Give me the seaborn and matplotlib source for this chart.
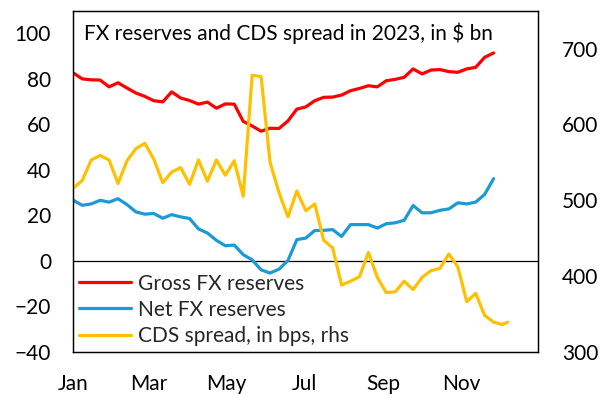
import pandas as pd
import matplotlib
matplotlib.use("Agg")
import matplotlib.pyplot as plt
import seaborn as sns

# Weekly observations, 2023
gross_fx = [82.6, 80.0, 79.6, 79.5, 76.5, 78.3, 76.0, 73.8, 72.3, 70.4,
            69.9, 74.3, 71.6, 70.5, 68.9, 69.8, 67.1, 69.0, 68.9, 61.3,
            59.3, 57.0, 58.3, 58.2, 61.5, 66.7, 67.7, 70.4, 71.9, 72.0,
            72.9, 74.8, 75.8, 77.0, 76.5, 79.2, 79.8, 80.7, 84.4, 82.2,
            83.9, 84.1, 83.2, 82.9, 84.4, 85.1, 89.5, 91.4]
net_fx = [26.6, 24.4, 25.0, 26.6, 25.8, 27.3, 24.7, 21.5, 20.5, 20.8,
          18.7, 20.3, 19.3, 18.6, 14.0, 12.2, 9.0, 6.6, 6.9, 2.7,
          0.4, -4.0, -5.4, -3.7, 0.1, 9.3, 10.0, 13.3, 13.4, 13.7,
          10.7, 15.9, 15.9, 15.9, 14.4, 16.3, 16.7, 17.8, 24.3, 21.1,
          21.1, 22.2, 22.8, 25.5, 25.0, 25.8, 29.2, 36.1]
cds_bps = [516, 526, 553, 559, 553, 522, 552, 568, 575, 554,
           523, 537, 543, 521, 553, 525, 553, 533, 552, 505,
           665, 663, 550, 510, 478, 512, 486, 495, 447, 437,
           388, 393, 399, 431, 398, 378, 379, 393, 382, 398,
           407, 410, 429, 412, 366, 377, 348, 339, 336, 339]

cds_dates = list(pd.date_range("2023-01-01", periods=49, freq="7D")) + [pd.Timestamp("2023-12-07")]
fx_dates = cds_dates[:len(gross_fx)]

month_ticks = ["2023-01-01", "2023-03-01", "2023-05-01", "2023-07-01", "2023-09-01", "2023-11-01"]
month_labels = ["Jan", "Mar", "May", "Jul", "Sep", "Nov"]

fx = pd.DataFrame({"date": fx_dates, "gross": gross_fx, "net": net_fx})
cds = pd.DataFrame({"date": cds_dates, "cds": cds_bps})

sns.set_theme(style="white")
plt.rcParams["font.family"] = ["Lato", "DejaVu Sans"]

RED = "#FF0000"
BLUE = "#1A9AD6"
GOLD = "#FFC000"
LW = 2.3

fig = plt.figure(figsize=(6.11, 3.95), dpi=100)
ax = fig.add_axes([0.12, 0.1096, 0.761, 0.8633])
ax2 = ax.twinx()

sns.lineplot(data=fx, x="date", y="gross", ax=ax, color=RED, linewidth=LW,
             label="Gross FX reserves", legend=False)
sns.lineplot(data=fx, x="date", y="net", ax=ax, color=BLUE, linewidth=LW,
             label="Net FX reserves", legend=False)
sns.lineplot(data=cds, x="date", y="cds", ax=ax2, color=GOLD, linewidth=LW,
             label="CDS spread, in bps, rhs", legend=False)

ax.axhline(0, color="black", linewidth=0.9, zorder=1)

ax.set_xlim(pd.Timestamp("2023-01-01"), pd.Timestamp("2023-12-31"))
ax.set_ylim(-40, 110)
ax2.set_ylim(300, 750)
ax.set_yticks(range(-40, 101, 20))
ax2.set_yticks(range(300, 701, 100))
ax.set_xticks(pd.to_datetime(month_ticks))
ax.set_xticklabels(month_labels)

for a in (ax, ax2):
    a.set_xlabel("")
    a.set_ylabel("")
    for s in a.spines.values():
        s.set_color("black")
        s.set_linewidth(0.9)

ax.tick_params(axis="both", length=0, labelsize=15, colors="black")
ax.tick_params(axis="y", pad=16)
ax.tick_params(axis="x", pad=16)
ax2.tick_params(axis="y", length=0, labelsize=15, colors="black", pad=17)

ax.text(0.023, 0.965, "FX reserves and CDS spread in 2023, in $ bn",
        transform=ax.transAxes, fontsize=15, va="top", ha="left", color="black")

handles = ax.get_lines()[:2] + ax2.get_lines()[:1]
labels = ["Gross FX reserves", "Net FX reserves", "CDS spread, in bps, rhs"]
leg = ax2.legend(handles, labels, loc="lower left", bbox_to_anchor=(-0.015, -0.02),
                 frameon=False, fontsize=15, handlelength=2.5, handletextpad=0.35,
                 labelspacing=0.3, borderaxespad=0.2)

fig.savefig("out.png", dpi=100)
